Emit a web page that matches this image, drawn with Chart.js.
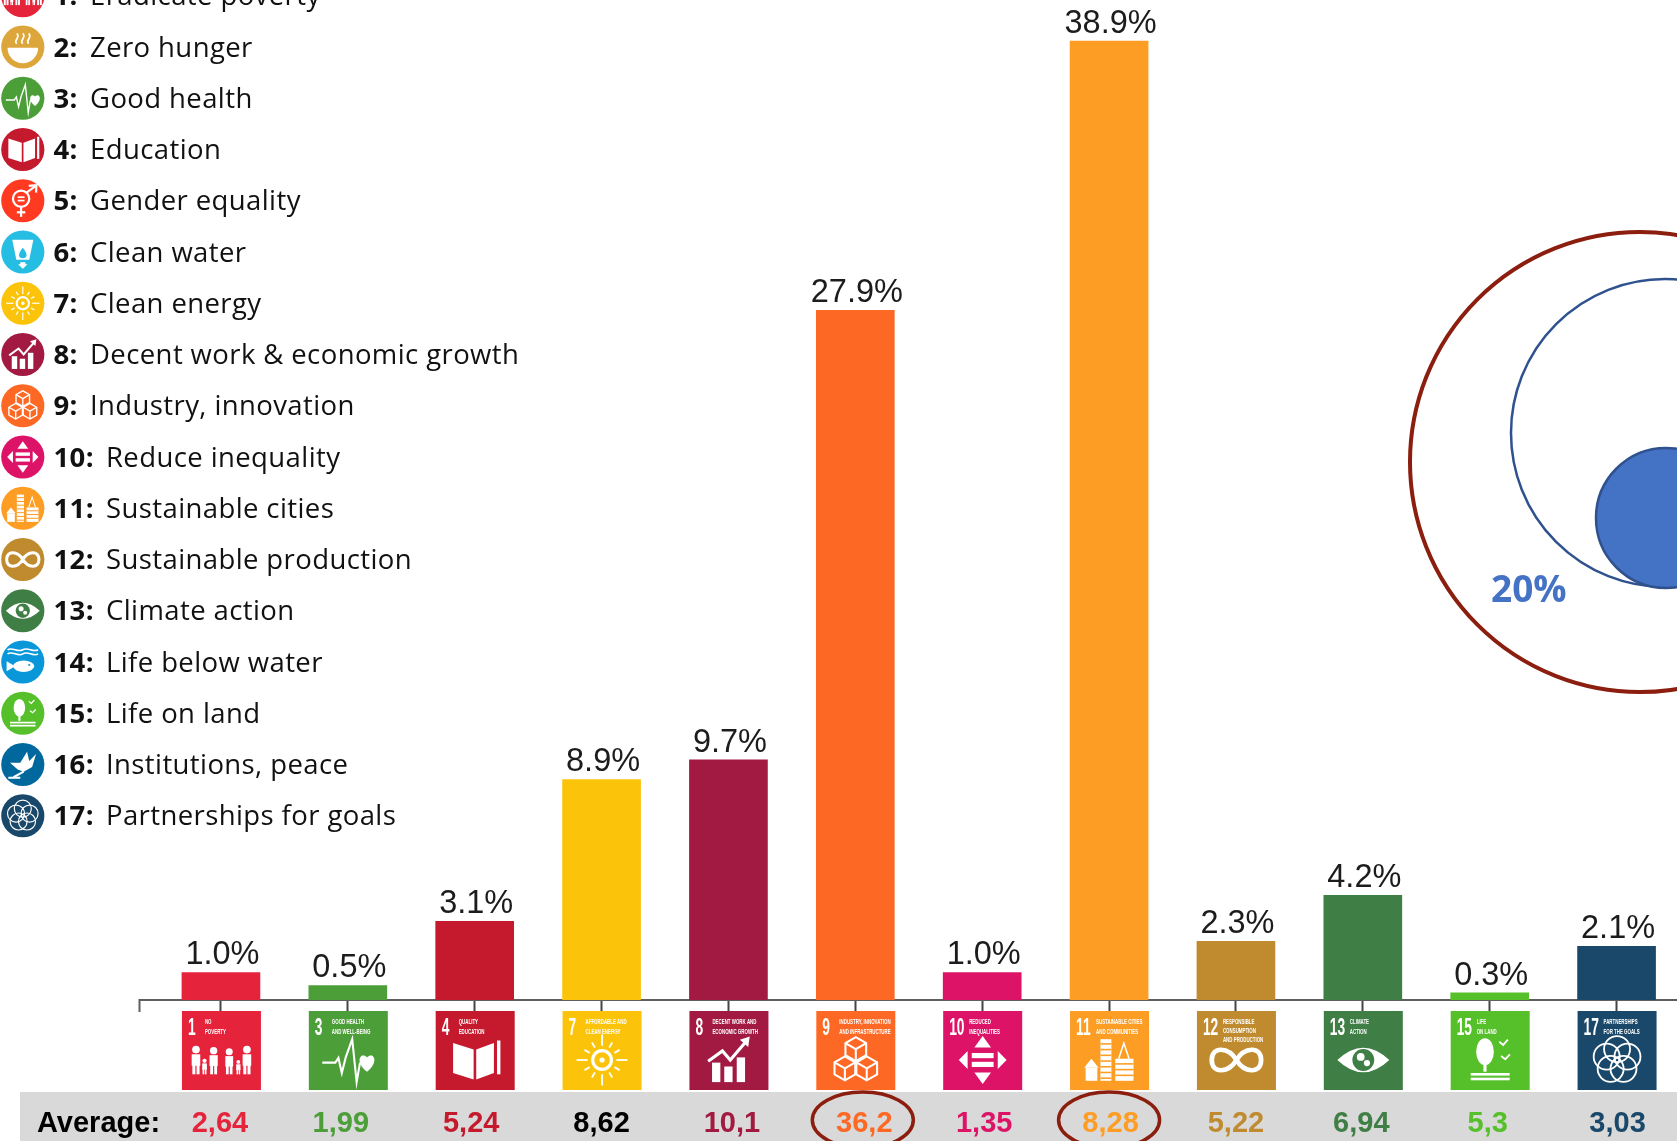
<!DOCTYPE html>
<html>
<head>
<meta charset="utf-8">
<title>SDG shares</title>
<script src="https://cdn.jsdelivr.net/npm/chart.js@4"></script>
<style>
  html, body { margin: 0; padding: 0; background: #fff; overflow: hidden; width: 1677px; height: 1141px; }
  canvas { display: block; }
</style>
</head>
<body>
<canvas id="sdgChart" width="1700" height="1141"></canvas>
<script>
// Chart data
const goalNumbers = [1, 3, 4, 7, 8, 9, 10, 11, 12, 13, 15, 17];
// bar heights as measured on the picture (printed labels are rounded differently)
const barHeights = [1.13, 0.6, 3.2, 8.95, 9.75, 27.98, 1.13, 38.9, 2.39, 4.26, 0.3, 2.19];
const shareLabels = ['1.0%', '0.5%', '3.1%', '8.9%', '9.7%', '27.9%', '1.0%', '38.9%', '2.3%', '4.2%', '0.3%', '2.1%'];
const averageLabels = ['2,64', '1,99', '5,24', '8,62', '10,1', '36,2', '1,35', '8,28', '5,22', '6,94', '5,3', '3,03'];
const circledAverages = ['36,2', '8,28'];
const legendLabels = [
    'Eradicate poverty', 'Zero hunger', 'Good health', 'Education', 'Gender equality', 'Clean water',
    'Clean energy', 'Decent work & economic growth', 'Industry, innovation', 'Reduce inequality',
    'Sustainable cities', 'Sustainable production', 'Climate action', 'Life below water', 'Life on land',
    'Institutions, peace', 'Partnerships for goals'
];
const tileCaptions = {
    1: ['NO', 'POVERTY'], 3: ['GOOD HEALTH', 'AND WELL-BEING'], 4: ['QUALITY', 'EDUCATION'],
    7: ['AFFORDABLE AND', 'CLEAN ENERGY'], 8: ['DECENT WORK AND', 'ECONOMIC GROWTH'],
    9: ['INDUSTRY, INNOVATION', 'AND INFRASTRUCTURE'], 10: ['REDUCED', 'INEQUALITIES'],
    11: ['SUSTAINABLE CITIES', 'AND COMMUNITIES'], 12: ['RESPONSIBLE', 'CONSUMPTION', 'AND PRODUCTION'],
    13: ['CLIMATE', 'ACTION'], 15: ['LIFE', 'ON LAND'], 17: ['PARTNERSHIPS', 'FOR THE GOALS']
};
const circleLabel = '20%';

// Official goal colours
const goalColors = {
    1: '#e5243b', 2: '#dda63a', 3: '#4c9f38', 4: '#c5192d', 5: '#ff3a21', 6: '#26bde2', 7: '#fcc30b',
    8: '#a21942', 9: '#fd6925', 10: '#dd1367', 11: '#fd9d24', 12: '#bf8b2e', 13: '#3f7e44', 14: '#0a97d9',
    15: '#56c02b', 16: '#00689d', 17: '#19486a'
};

// Little white pictograms, drawn in a -1..1 box
function poly(ctx, pts, close) {
    ctx.beginPath();
    pts.forEach((p, i) => i ? ctx.lineTo(p[0], p[1]) : ctx.moveTo(p[0], p[1]));
    if (close) ctx.closePath();
}
function disc(ctx, x, y, r) {
    ctx.beginPath();
    ctx.arc(x, y, r, 0, Math.PI * 2);
    ctx.fill();
}
function ring(ctx, x, y, r) {
    ctx.beginPath();
    ctx.arc(x, y, r, 0, Math.PI * 2);
    ctx.stroke();
}
function person(ctx, x, bottom, h) {
    const w = h * 0.3;
    disc(ctx, x, bottom - h + w * 0.45, w * 0.45);
    ctx.fillRect(x - w / 2, bottom - h + w, w, h * 0.4);
    ctx.fillRect(x - w * 0.42, bottom - h * 0.4, w * 0.35, h * 0.4);
    ctx.fillRect(x + w * 0.07, bottom - h * 0.4, w * 0.35, h * 0.4);
}
function cube(ctx, x, y, r) {
    const hex = [];
    for (let i = 0; i < 6; i++) {
        const a = Math.PI / 6 + i * Math.PI / 3;
        hex.push([x + r * Math.cos(a), y + r * Math.sin(a)]);
    }
    poly(ctx, hex, true);
    ctx.stroke();
    [hex[1], hex[3], hex[5]].forEach(p => {
        poly(ctx, [[x, y], p]);
        ctx.stroke();
    });
}

const icons = {
    1(ctx) {
        person(ctx, -0.98, 0.55, 1.1);
        person(ctx, -0.3, 0.55, 1.05);
        person(ctx, 0.3, 0.55, 1.0);
        person(ctx, 0.98, 0.55, 1.1);
        person(ctx, -0.65, 0.55, 0.6);
        person(ctx, 0.65, 0.55, 0.55);
    },
    2(ctx, bg) {
        ctx.beginPath();
        ctx.arc(0, 0.05, 0.9, 0, Math.PI);
        ctx.closePath();
        ctx.fill();
        ctx.lineWidth = 0.1;
        [-0.35, 0, 0.35].forEach(x => {
            ctx.beginPath();
            ctx.moveTo(x, -0.2);
            ctx.bezierCurveTo(x - 0.25, -0.4, x + 0.25, -0.55, x, -0.8);
            ctx.stroke();
        });
    },
    3(ctx) {
        ctx.lineWidth = 0.08;
        poly(ctx, [[-1, 0.1], [-0.5, 0.1], [-0.38, -0.08], [-0.25, 0.5], [-0.1, -0.1], [0.15, -0.8], [0.32, 0.85], [0.45, 0.1]]);
        ctx.stroke();
        ctx.beginPath();
        ctx.moveTo(0.72, 0.45);
        ctx.bezierCurveTo(0.2, 0.05, 0.5, -0.35, 0.72, -0.1);
        ctx.bezierCurveTo(0.95, -0.35, 1.22, 0.05, 0.72, 0.45);
        ctx.fill();
    },
    4(ctx) {
        poly(ctx, [[-0.85, -0.65], [-0.06, -0.4], [-0.06, 0.75], [-0.85, 0.5]], true);
        ctx.fill();
        poly(ctx, [[0.72, -0.65], [0.04, -0.4], [0.04, 0.75], [0.72, 0.5]], true);
        ctx.fill();
        ctx.fillRect(0.84, -0.75, 0.13, 1.3);
    },
    5(ctx) {
        ctx.lineWidth = 0.13;
        ring(ctx, -0.1, -0.12, 0.48);
        poly(ctx, [[-0.1, 0.36], [-0.1, 0.95]]);
        ctx.stroke();
        poly(ctx, [[-0.35, 0.68], [0.15, 0.68]]);
        ctx.stroke();
        poly(ctx, [[0.22, -0.48], [0.72, -0.85]]);
        ctx.stroke();
        poly(ctx, [[0.35, -0.88], [0.8, -0.92], [0.78, -0.48]]);
        ctx.stroke();
        ctx.fillRect(-0.3, -0.26, 0.4, 0.1);
        ctx.fillRect(-0.3, -0.06, 0.4, 0.1);
    },
    6(ctx, bg) {
        poly(ctx, [[-0.62, -0.72], [0.62, -0.72], [0.38, 0.45], [-0.38, 0.45]], true);
        ctx.fill();
        poly(ctx, [[-0.15, 0.6], [0.15, 0.6], [0.15, 0.72], [0.28, 0.72], [0, 0.98], [-0.28, 0.72], [-0.15, 0.72]], true);
        ctx.fill();
        ctx.fillStyle = bg;
        ctx.beginPath();
        ctx.moveTo(0, -0.25);
        ctx.bezierCurveTo(0.38, 0.2, 0.2, 0.38, 0, 0.36);
        ctx.bezierCurveTo(-0.2, 0.38, -0.38, 0.2, 0, -0.25);
        ctx.fill();
    },
    7(ctx) {
        ctx.lineWidth = 0.12;
        ring(ctx, 0, 0, 0.36);
        disc(ctx, 0, 0, 0.1);
        ctx.lineWidth = 0.07;
        for (let i = 0; i < 12; i++) {
            const a = i * Math.PI / 6;
            const len = i % 3 === 0 ? 0.98 : 0.78;
            poly(ctx, [[0.55 * Math.cos(a), 0.55 * Math.sin(a)], [len * Math.cos(a), len * Math.sin(a)]]);
            ctx.stroke();
        }
    },
    8(ctx) {
        ctx.fillRect(-0.65, 0.1, 0.32, 0.75);
        ctx.fillRect(-0.18, 0.25, 0.32, 0.6);
        ctx.fillRect(0.3, -0.1, 0.32, 0.95);
        ctx.lineWidth = 0.12;
        poly(ctx, [[-0.8, 0.05], [-0.25, -0.35], [0.05, 0], [0.65, -0.7]]);
        ctx.stroke();
        poly(ctx, [[0.42, -0.78], [0.8, -0.9], [0.74, -0.5]], true);
        ctx.fill();
    },
    9(ctx) {
        ctx.lineWidth = 0.08;
        cube(ctx, 0, -0.42, 0.46);
        cube(ctx, -0.42, 0.32, 0.46);
        cube(ctx, 0.42, 0.32, 0.46);
    },
    10(ctx) {
        ctx.fillRect(-0.42, -0.27, 0.84, 0.2);
        ctx.fillRect(-0.42, 0.07, 0.84, 0.2);
        poly(ctx, [[0, -0.92], [0.32, -0.48], [-0.32, -0.48]], true);
        ctx.fill();
        poly(ctx, [[0, 0.92], [0.32, 0.48], [-0.32, 0.48]], true);
        ctx.fill();
        poly(ctx, [[-0.92, 0], [-0.58, -0.35], [-0.58, 0.35]], true);
        ctx.fill();
        poly(ctx, [[0.92, 0], [0.58, -0.35], [0.58, 0.35]], true);
        ctx.fill();
    },
    11(ctx, bg) {
        ctx.fillRect(-0.35, -0.8, 0.42, 1.6);
        ctx.fillRect(0.22, -0.05, 0.7, 0.85);
        ctx.fillRect(-0.92, 0.3, 0.45, 0.5);
        poly(ctx, [[-0.98, 0.3], [-0.7, -0.05], [-0.42, 0.3]], true);
        ctx.fill();
        ctx.lineWidth = 0.06;
        poly(ctx, [[0.35, -0.05], [0.55, -0.65], [0.75, -0.05]]);
        ctx.stroke();
        ctx.fillStyle = bg;
        for (let r = 0; r < 7; r++) ctx.fillRect(-0.35, -0.65 + r * 0.22, 0.42, 0.06);
        for (let r = 0; r < 3; r++) ctx.fillRect(0.22, 0.12 + r * 0.22, 0.7, 0.06);
    },
    12(ctx) {
        ctx.lineWidth = 0.18;
        ctx.beginPath();
        ctx.moveTo(0, 0);
        ctx.bezierCurveTo(-0.3, -0.5, -0.95, -0.55, -0.95, 0);
        ctx.bezierCurveTo(-0.95, 0.55, -0.3, 0.5, 0, 0);
        ctx.bezierCurveTo(0.3, -0.5, 0.95, -0.55, 0.95, 0);
        ctx.bezierCurveTo(0.95, 0.55, 0.3, 0.5, 0, 0);
        ctx.stroke();
    },
    13(ctx, bg) {
        ctx.beginPath();
        ctx.moveTo(-1, 0);
        ctx.quadraticCurveTo(0, -0.95, 1, 0);
        ctx.quadraticCurveTo(0, 0.95, -1, 0);
        ctx.fill();
        ctx.fillStyle = bg;
        disc(ctx, 0, 0, 0.42);
        ctx.fillStyle = '#fff';
        disc(ctx, -0.1, -0.12, 0.15);
        disc(ctx, 0.14, 0.12, 0.12);
    },
    14(ctx, bg) {
        ctx.lineWidth = 0.09;
        [-0.72, -0.48].forEach(y => {
            ctx.beginPath();
            ctx.moveTo(-0.9, y);
            ctx.bezierCurveTo(-0.6, y - 0.2, -0.3, y + 0.2, 0, y);
            ctx.bezierCurveTo(0.3, y - 0.2, 0.6, y + 0.2, 0.9, y);
            ctx.stroke();
        });
        ctx.beginPath();
        ctx.ellipse(0.05, 0.25, 0.62, 0.34, 0, 0, Math.PI * 2);
        ctx.fill();
        poly(ctx, [[-0.45, 0.25], [-0.95, -0.05], [-0.95, 0.55]], true);
        ctx.fill();
        ctx.fillStyle = bg;
        disc(ctx, 0.38, 0.17, 0.06);
    },
    15(ctx) {
        ctx.beginPath();
        ctx.ellipse(-0.2, -0.32, 0.34, 0.52, 0, 0, Math.PI * 2);
        ctx.fill();
        ctx.fillRect(-0.26, 0.1, 0.12, 0.35);
        ctx.fillRect(-0.75, 0.5, 1.5, 0.1);
        ctx.fillRect(-0.75, 0.68, 1.5, 0.1);
        ctx.lineWidth = 0.07;
        poly(ctx, [[0.35, -0.7], [0.5, -0.58], [0.68, -0.78]]);
        ctx.stroke();
        poly(ctx, [[0.42, -0.15], [0.58, -0.03], [0.76, -0.22]]);
        ctx.stroke();
    },
    16(ctx) {
        poly(ctx, [[-0.75, -0.1], [-0.15, -0.1], [0.25, -0.75], [0.38, -0.2], [0.78, -0.62], [0.55, 0.15], [0.05, 0.42], [-0.3, 0.3]], true);
        ctx.fill();
        ctx.lineWidth = 0.12;
        poly(ctx, [[-0.55, 0.75], [0.05, 0.42]]);
        ctx.stroke();
        ctx.fillRect(-0.85, 0.72, 0.7, 0.12);
    },
    17(ctx) {
        ctx.lineWidth = 0.07;
        for (let i = 0; i < 5; i++) {
            const a = -Math.PI / 2 + i * 2 * Math.PI / 5;
            ring(ctx, 0.42 * Math.cos(a), 0.42 * Math.sin(a), 0.5);
        }
    }
};

function drawIcon(ctx, n, x, y, size, bg) {
    ctx.save();
    ctx.translate(x, y);
    ctx.scale(size, size);
    ctx.fillStyle = '#fff';
    ctx.strokeStyle = '#fff';
    ctx.lineWidth = 0.1;
    icons[n](ctx, bg);
    ctx.restore();
}

function drawLegend(ctx) {
    legendLabels.forEach((label, i) => {
        const n = i + 1;
        const y = -4.25 + i * 51.25;
        ctx.fillStyle = goalColors[n];
        disc(ctx, 22.8, y, 21.6);
        drawIcon(ctx, n, 22.8, y, 17, goalColors[n]);
        ctx.fillStyle = '#111';
        ctx.textBaseline = 'alphabetic';
        ctx.textAlign = 'left';
        ctx.letterSpacing = '0.4px';
        ctx.font = 'bold 27.5px "Open Sans"';
        ctx.fillText(n + ':', 53.5, y + 9.5);
        ctx.font = '27.5px "Open Sans"';
        ctx.fillText(label, n < 10 ? 90 : 106, y + 9.5);
        ctx.letterSpacing = '0px';
    });
}

function drawTile(ctx, n, cx) {
    const color = goalColors[n];
    const left = cx - 39.5;
    const top = 1011;
    const captions = tileCaptions[n];
    ctx.fillStyle = color;
    ctx.fillRect(left, top, 79, 79);
    // number and caption squeezed the way the printed tiles are
    ctx.save();
    ctx.fillStyle = '#fff';
    ctx.textAlign = 'left';
    ctx.textBaseline = 'alphabetic';
    ctx.translate(left, top);
    ctx.save();
    ctx.translate(6, 24);
    ctx.scale(0.6, 1);
    ctx.font = 'bold 23px "Liberation Sans"';
    ctx.fillText(String(n), 0, 0);
    ctx.restore();
    captions.forEach((line, i) => {
        ctx.save();
        ctx.translate(n < 10 ? 23 : 26, 13 + i * (captions.length > 2 ? 9 : 10));
        ctx.scale(0.55, 1);
        ctx.font = 'bold 8px "Liberation Sans"';
        ctx.fillText(line, 0, 0);
        ctx.restore();
    });
    ctx.restore();
    drawIcon(ctx, n, cx, top + 49, 26, color);
}

function drawAverages(ctx, xScale) {
    const nudges = [-1, -7, -3.5, 0, 3.5, 9, 2, 1.5, 0, -1.5, -2, 1];
    ctx.fillStyle = '#d9d9d9';
    ctx.fillRect(20, 1092, 1680, 49);
    ctx.textBaseline = 'alphabetic';
    ctx.font = 'bold 29px "Liberation Sans"';
    ctx.fillStyle = '#000';
    ctx.textAlign = 'left';
    ctx.fillText('Average:', 37, 1131.5);
    ctx.textAlign = 'center';
    averageLabels.forEach((label, i) => {
        const n = goalNumbers[i];
        const x = xScale.getPixelForValue(i) + nudges[i];
        ctx.fillStyle = n === 7 ? '#000' : goalColors[n];
        ctx.fillText(label, x, 1131.5);
        if (circledAverages.includes(label)) {
            ctx.strokeStyle = '#8b1e0e';
            ctx.lineWidth = 3.5;
            ctx.beginPath();
            ctx.ellipse(x - 1.5, 1120, 50.5, 28, 0, 0, Math.PI * 2);
            ctx.stroke();
        }
    });
}

function drawCircles(ctx) {
    ctx.lineWidth = 4;
    ctx.strokeStyle = '#8b1e0e';
    ring(ctx, 1640, 462, 230);
    ctx.lineWidth = 2.5;
    ctx.strokeStyle = '#2f528f';
    ring(ctx, 1665, 433, 154);
    ctx.fillStyle = '#4472c4';
    disc(ctx, 1666, 518, 70);
    ring(ctx, 1666, 518, 70);
    ctx.font = 'bold 37px "Open Sans"';
    ctx.textAlign = 'left';
    ctx.textBaseline = 'alphabetic';
    ctx.fillText(circleLabel, 1491, 602);
}

// Everything around the bars: legend column, tiles, average band, circles
const sdgDecor = {
    id: 'sdgDecor',
    afterDraw(chart) {
        const ctx = chart.ctx;
        const xScale = chart.scales.x;
        ctx.save();
        // axis runs a bit further left than the first category and ends in a tick
        ctx.strokeStyle = '#5f5f5f';
        ctx.lineWidth = 2;
        poly(ctx, [[139.5, 1012], [139.5, 1000], [xScale.left, 1000]]);
        ctx.stroke();
        drawLegend(ctx);
        goalNumbers.forEach((n, i) => drawTile(ctx, n, xScale.getPixelForValue(i) + 0.5));
        drawAverages(ctx, xScale);
        drawCircles(ctx);
        ctx.restore();
    },
    afterDatasetsDraw(chart) {
        const ctx = chart.ctx;
        const meta = chart.getDatasetMeta(0);
        ctx.save();
        ctx.fillStyle = '#1c1c1c';
        ctx.font = '32.5px "Liberation Sans"';
        ctx.textAlign = 'center';
        ctx.textBaseline = 'alphabetic';
        meta.data.forEach((bar, i) => {
            ctx.fillText(shareLabels[i], bar.x + 1.5, bar.y - 8);
        });
        ctx.restore();
    }
};

new Chart(document.getElementById('sdgChart'), {
    type: 'bar',
    data: {
        labels: goalNumbers.map(n => tileCaptions[n].join(' ')),
        datasets: [{
            data: barHeights,
            backgroundColor: goalNumbers.map(n => goalColors[n]),
            barPercentage: 0.62,
            categoryPercentage: 1
        }]
    },
    options: {
        responsive: false,
        animation: false,
        layout: { padding: { left: 157.5, right: 20, top: 0, bottom: 0 } },
        plugins: { legend: { display: false }, tooltip: { enabled: false } },
        scales: {
            x: {
                afterFit(scale) { scale.height = 141; },
                grid: { offset: false, drawOnChartArea: false, tickLength: 11, tickColor: '#444', tickWidth: 2 },
                border: { color: '#5f5f5f', width: 2 },
                ticks: { display: false }
            },
            y: { display: false, min: 0, max: 40.55 }
        }
    },
    plugins: [sdgDecor]
});
</script>
</body>
</html>
